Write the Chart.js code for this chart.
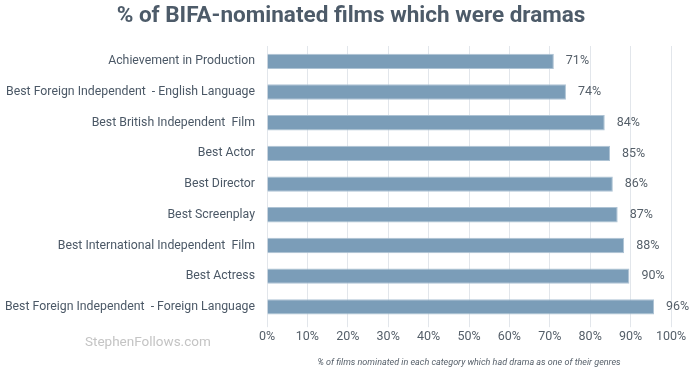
<!DOCTYPE html>
<html>
<head>
<meta charset="utf-8">
<script src="https://cdn.jsdelivr.net/npm/chart.js@4/dist/chart.umd.min.js"></script>
<style>
  html, body { margin: 0; padding: 0; background: #fff; }
  #wrap { width: 700px; height: 376px; }
</style>
</head>
<body>
<div id="wrap"><canvas id="myChart" width="700" height="376"></canvas></div>
<script>
// categories (top to bottom)
const categories = [
  'Achievement in Production',
  'Best Foreign Independent  - English Language',
  'Best British Independent  Film',
  'Best Actor',
  'Best Director',
  'Best Screenplay',
  'Best International Independent  Film',
  'Best Actress',
  'Best Foreign Independent  - Foreign Language'
];
// % of nominated films which were dramas
const dramaShare = [71, 74, 83.6, 84.9, 85.6, 86.8, 88.4, 89.7, 95.8];
const xTicks = [0, 10, 20, 30, 40, 50, 60, 70, 80, 90, 100];

const chartTitle = '% of BIFA-nominated films which were dramas';
const textColor = '#4b5866';

// title drawn centred on the whole canvas (the builtin one centres on the padded box)
const centredTitle = {
  id: 'centredTitle',
  afterDraw(chart) {
    const ctx = chart.ctx;
    ctx.save();
    ctx.font = 'bold 22.5px Roboto';
    ctx.fillStyle = '#4d5b69';
    ctx.textAlign = 'center';
    ctx.textBaseline = 'middle';
    ctx.fillText(chartTitle, 351, 16);
    ctx.restore();
  }
};

// draws the value label to the right of each bar
const valueLabels = {
  id: 'valueLabels',
  afterDatasetsDraw(chart) {
    const ctx = chart.ctx;
    const meta = chart.getDatasetMeta(0);
    ctx.save();
    ctx.font = '12.5px Roboto';
    ctx.fillStyle = '#555f69';
    ctx.textAlign = 'left';
    ctx.textBaseline = 'middle';
    meta.data.forEach((bar, i) => {
      ctx.fillText(Math.round(dramaShare[i]) + '%', bar.x + 12, bar.y);
    });
    ctx.restore();
  }
};

// site watermark, bottom left
const watermark = {
  id: 'watermark',
  afterDraw(chart) {
    const ctx = chart.ctx;
    ctx.save();
    ctx.font = '13.5px Roboto';
    ctx.fillStyle = '#c4c4c4';
    ctx.textAlign = 'left';
    ctx.textBaseline = 'middle';
    ctx.fillText('StephenFollows.com', 85, 343);
    ctx.restore();
  }
};

new Chart(document.getElementById('myChart').getContext('2d'), {
  type: 'bar',
  data: {
    labels: categories,
    datasets: [{
      data: dramaShare,
      backgroundColor: '#7b9db8',
      borderColor: '#aec3d4',
      borderWidth: 1,
      barPercentage: 0.5,
      categoryPercentage: 1
    }]
  },
  options: {
    indexAxis: 'y',
    responsive: false,
    animation: false,
    layout: { padding: { left: 0, right: 29, top: 46, bottom: 8 } },
    plugins: {
      legend: { display: false },
      tooltip: { enabled: false },
      title: { display: false }
    },
    scales: {
      x: {
        min: 0,
        max: 100,
        afterBuildTicks(scale) {
          scale.ticks = xTicks.map(v => ({ value: v }));
        },
        ticks: {
          callback: v => v + '%',
          font: { family: 'Roboto', size: 12.5 },
          color: '#555f69',
          padding: 2
        },
        grid: { color: '#e2e6eb', tickLength: 5, drawTicks: true },
        border: { display: false },
        title: {
          display: true,
          text: '% of films nominated in each category which had drama as one of their genres',
          font: { family: 'Roboto', size: 9, style: 'italic' },
          color: '#555f69',
          padding: { top: 11, bottom: 0 }
        }
      },
      y: {
        afterFit(scale) { scale.width = 267; },
        ticks: {
          font: { family: 'Roboto', size: 12.3 },
          color: textColor,
          padding: 4
        },
        grid: { display: false },
        border: { display: true, color: '#e2e6eb' }
      }
    }
  },
  plugins: [centredTitle, valueLabels, watermark]
});
</script>
</body>
</html>
